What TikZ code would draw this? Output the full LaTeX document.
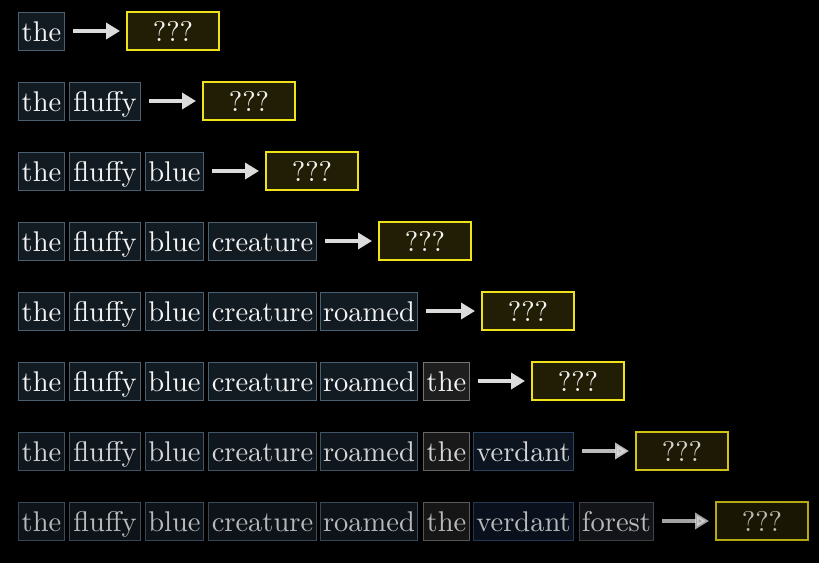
\documentclass[tikz,border=0pt]{standalone}
\usepackage{fontspec}
\setmainfont{lmroman10-regular.otf}
\usetikzlibrary{arrows.meta}
\definecolor{tokfill}{HTML}{121A22}
\definecolor{tokdraw}{HTML}{4A6070}
\definecolor{thefill}{HTML}{1E1E1E}
\definecolor{thedraw}{HTML}{747474}
\definecolor{verdfill}{HTML}{0F1826}
\definecolor{verddraw}{HTML}{2F4C6E}
\definecolor{forfill}{HTML}{1A1C20}
\definecolor{fordraw}{HTML}{50565E}
\definecolor{resfill}{HTML}{221E05}
\definecolor{resdraw}{HTML}{F0E21A}
\definecolor{txtcol}{HTML}{F4F4F4}
\definecolor{arrcol}{HTML}{DCDCDC}
\tikzset{
  tok/.style={draw=tokdraw, fill=tokfill, line width=1pt, anchor=west, inner sep=0pt,
    minimum height=38pt, text=txtcol, font=\fontsize{28.5}{34}\selectfont,
    text height=25pt, text depth=5pt},
  tokthe/.style={tok, draw=thedraw, fill=thefill},
  tokverd/.style={tok, draw=verddraw, fill=verdfill},
  tokfor/.style={tok, draw=fordraw, fill=forfill},
  resbox/.style={tok, draw=resdraw, fill=resfill, line width=2pt, minimum width=92pt},
  nextarr/.style={draw=arrcol, line width=4pt, -{Triangle[length=14pt,width=16pt]},
    shorten <=8pt, shorten >=6pt}
}
\begin{document}
\begin{tikzpicture}[x=1pt,y=-1pt]
\fill[black] (0,0) rectangle (819,563);
\useasboundingbox (0,0) rectangle (819,563);
% row 1
\node[tok, minimum width=46pt] (a1) at (18,31) {the};
\node[resbox] (r1) at (126,31) {???};
\draw[nextarr] (a1) -- (r1);
% row 2
\node[tok, minimum width=46pt] (b1) at (18,101) {the};
\node[tok, minimum width=71pt] (b2) at (69,101) {fluffy};
\node[resbox] (r2) at (202,101) {???};
\draw[nextarr] (b2) -- (r2);
% row 3
\node[tok, minimum width=46pt] (c1) at (18,171) {the};
\node[tok, minimum width=71pt] (c2) at (69,171) {fluffy};
\node[tok, minimum width=58pt] (c3) at (145,171) {blue};
\node[resbox] (r3) at (265,171) {???};
\draw[nextarr] (c3) -- (r3);
% row 4
\node[tok, minimum width=46pt] (d1) at (18,241) {the};
\node[tok, minimum width=71pt] (d2) at (69,241) {fluffy};
\node[tok, minimum width=58pt] (d3) at (145,241) {blue};
\node[tok, minimum width=108pt] (d4) at (208,241) {creature};
\node[resbox] (r4) at (378,241) {???};
\draw[nextarr] (d4) -- (r4);
% row 5
\node[tok, minimum width=46pt] (e1) at (18,311) {the};
\node[tok, minimum width=71pt] (e2) at (69,311) {fluffy};
\node[tok, minimum width=58pt] (e3) at (145,311) {blue};
\node[tok, minimum width=108pt] (e4) at (208,311) {creature};
\node[tok, minimum width=97pt] (e5) at (320,311) {roamed};
\node[resbox] (r5) at (481,311) {???};
\draw[nextarr] (e5) -- (r5);
% row 6
\node[tok, minimum width=46pt] (f1) at (18,381) {the};
\node[tok, minimum width=71pt] (f2) at (69,381) {fluffy};
\node[tok, minimum width=58pt] (f3) at (145,381) {blue};
\node[tok, minimum width=108pt] (f4) at (208,381) {creature};
\node[tok, minimum width=97pt] (f5) at (320,381) {roamed};
\node[tokthe, minimum width=46pt] (f6) at (423,381) {the};
\node[resbox] (r6) at (531,381) {???};
\draw[nextarr] (f6) -- (r6);
% row 7
\begin{scope}[opacity=0.86]
\node[tok, minimum width=46pt] (g1) at (18,451) {the};
\node[tok, minimum width=71pt] (g2) at (69,451) {fluffy};
\node[tok, minimum width=58pt] (g3) at (145,451) {blue};
\node[tok, minimum width=108pt] (g4) at (208,451) {creature};
\node[tok, minimum width=97pt] (g5) at (320,451) {roamed};
\node[tokthe, minimum width=46pt] (g6) at (423,451) {the};
\node[tokverd, minimum width=100pt] (g7) at (473,451) {verdant};
\node[resbox] (r7) at (635,451) {???};
\draw[nextarr] (g7) -- (r7);
\end{scope}
% row 8
\begin{scope}[opacity=0.74]
\node[tok, minimum width=46pt] (h1) at (18,521) {the};
\node[tok, minimum width=71pt] (h2) at (69,521) {fluffy};
\node[tok, minimum width=58pt] (h3) at (145,521) {blue};
\node[tok, minimum width=108pt] (h4) at (208,521) {creature};
\node[tok, minimum width=97pt] (h5) at (320,521) {roamed};
\node[tokthe, minimum width=46pt] (h6) at (423,521) {the};
\node[tokverd, minimum width=100pt] (h7) at (473,521) {verdant};
\node[tokfor, minimum width=74pt] (h8) at (579,521) {forest};
\node[resbox] (r8) at (715,521) {???};
\draw[nextarr] (h8) -- (r8);
\end{scope}
\end{tikzpicture}
\end{document}
